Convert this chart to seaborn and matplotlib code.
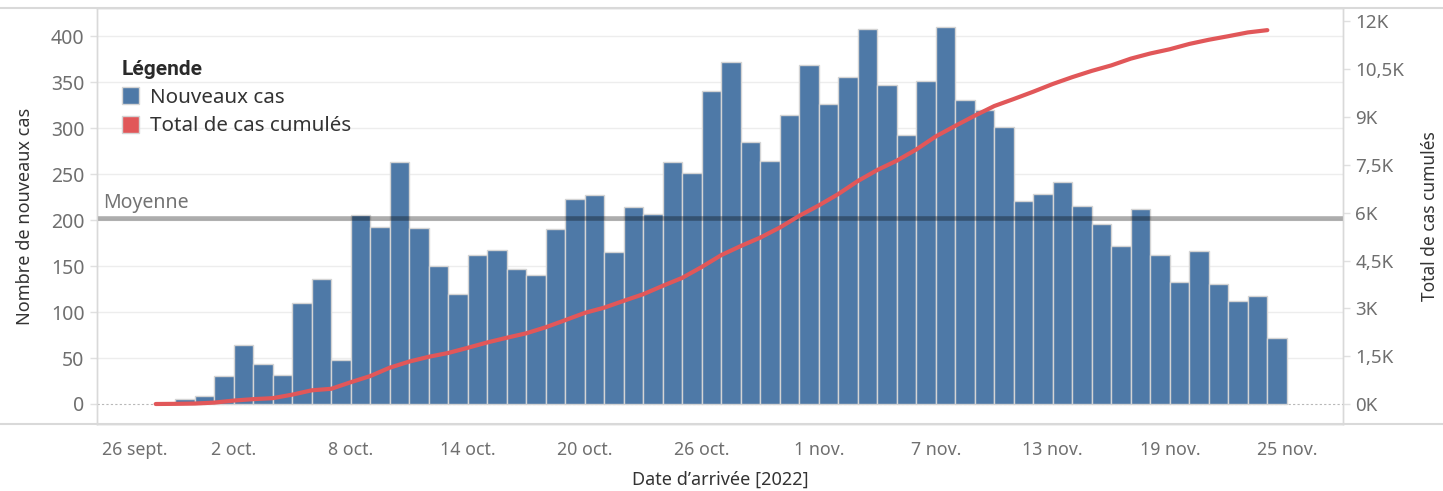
import numpy as np
import pandas as pd
import matplotlib
matplotlib.use("Agg")
import matplotlib.pyplot as plt
import matplotlib.dates as mdates
from matplotlib.patches import Patch
from matplotlib.lines import Line2D
from matplotlib.transforms import ScaledTranslation
from matplotlib.font_manager import FontProperties
import seaborn as sns

# ---------------- data ----------------
start_date = "2022-09-28"
new_cases = [0, 5, 9, 30, 64, 44, 31, 110, 136, 48, 206, 193, 263, 192, 150, 120,
             162, 168, 147, 140, 190, 223, 227, 165, 214, 207, 263, 251, 341, 372,
             285, 264, 315, 369, 326, 356, 408, 347, 293, 351, 410, 331, 320, 302,
             221, 229, 242, 215, 196, 172, 212, 162, 133, 166, 131, 112, 118, 72]
tick_dates = ["2022-09-26", "2022-10-02", "2022-10-08", "2022-10-14", "2022-10-20",
              "2022-10-26", "2022-11-01", "2022-11-07", "2022-11-13", "2022-11-19",
              "2022-11-25"]
tick_labels = ["26 sept.", "2 oct.", "8 oct.", "14 oct.", "20 oct.", "26 oct.",
               "1 nov.", "7 nov.", "13 nov.", "19 nov.", "25 nov."]
left_ticks = [0, 50, 100, 150, 200, 250, 300, 350, 400]
right_ticks = [0, 1500, 3000, 4500, 6000, 7500, 9000, 10500, 12000]
right_labels = ["0K", "1,5K", "3K", "4,5K", "6K", "7,5K", "9K", "10,5K", "12K"]
legend_labels = ["Nouveaux cas", "Total de cas cumulés"]

# ---------------- derived ----------------
dates = pd.date_range(start_date, periods=len(new_cases), freq="D")
day_start = mdates.date2num(dates)
bar_x = day_start + 0.5
cumulative = np.cumsum(new_cases)
mean_value = float(np.mean(new_cases))
df = pd.DataFrame({"x": bar_x, "cas": new_cases, "xs": day_start, "cum": cumulative})

BLUE = "#4e79a7"
RED = "#e15759"
EDGE = "#d4d4d4"
TICK_COL = "#6f6f6f"
TITLE_COL = "#333333"
BORDER = "#d9d9d9"

sns.set_style("white")
plt.rcParams["font.family"] = ["Noto Sans", "DejaVu Sans"]

W, H = 1443, 491
fig = plt.figure(figsize=(W / 100, H / 100), dpi=100)
L, R, T, B = 97, 1343, 8, 424
ax = fig.add_axes([L / W, (H - B) / H, (R - L) / W, (B - T) / H])

sns.barplot(data=df, x="x", y="cas", native_scale=True, width=1, ax=ax,
            color=BLUE, saturation=1, edgecolor=EDGE, linewidth=1,
            errorbar=None, zorder=2)

ax.set_ylim(-21.8, 431)
x0 = mdates.date2num(pd.Timestamp(tick_dates[0]))
ax.set_xlim(x0 - 1.01, x0 + 62.88)

# grid lines (skip zero: dotted baseline there)
for v in left_ticks[1:]:
    ax.axhline(v, color="#ededed", lw=1, zorder=0)
ax.axhline(0, color="#b8b8b8", lw=0.8, ls=(0, (2, 2)), zorder=1)

# mean line
ax.axhline(mean_value, color="black", alpha=0.32, lw=3.3, zorder=3)
ax.annotate("Moyenne", xy=(0.005, mean_value), xycoords=ax.get_yaxis_transform(),
            xytext=(0, 4), textcoords="offset points", ha="left", va="bottom",
            fontsize=14, color="#737373")

ax.set_yticks(left_ticks)
ax.set_yticklabels([str(v) for v in left_ticks])
ax.set_xticks(mdates.date2num(pd.to_datetime(tick_dates)))
ax.set_xticklabels(tick_labels)
ax.xaxis.set_minor_locator(mdates.DayLocator())
ax.tick_params(axis="y", length=5, width=1, color="#e0e0e0", pad=4,
               labelsize=14, labelcolor=TICK_COL)
ax.tick_params(axis="x", which="major", length=5, width=1, color="#d0d0d0", pad=7,
               labelsize=12.8, labelcolor=TICK_COL)
ax.tick_params(axis="x", which="minor", length=4, width=1, color="#ececec")
ax.set_xlabel("Date d\u2019arrivée [2022]", fontsize=13, color=TITLE_COL, labelpad=9,
              fontweight="medium")
ax.set_ylabel("Nombre de nouveaux cas", fontsize=13, color=TITLE_COL, labelpad=12)
for s in ax.spines.values():
    s.set_color(BORDER)
    s.set_linewidth(1)

# secondary axis: cumulative
ax2 = ax.twinx()
sns.lineplot(data=df, x="xs", y="cum", ax=ax2, color=RED, linewidth=3.0,
             solid_capstyle="round", zorder=4)
ax2.set_ylim(-627.5, 12423.5)
ax2.set_xlim(ax.get_xlim())
ax2.set_yticks(right_ticks)
ax2.set_yticklabels(right_labels)
ax2.tick_params(axis="y", length=5, width=1, color="#e0e0e0", pad=4,
                labelsize=13.5, labelcolor=TICK_COL)
ax2.set_ylabel("Total de cas cumulés", fontsize=12.5, color=TITLE_COL, labelpad=12)
ax2.set_xlabel("")
for s in ax2.spines.values():
    s.set_color(BORDER)
    s.set_linewidth(1)

# legend
title_fp = FontProperties(family=["Roboto", "DejaVu Sans"], weight="bold", size=15)
handles = [Patch(facecolor=BLUE, edgecolor=EDGE), Patch(facecolor=RED, edgecolor=EDGE)]
leg = ax2.legend(handles, legend_labels, title="Légende", loc="upper left",
                 bbox_to_anchor=(0.02, 0.876), frameon=False,
                 prop={"size": 14.8},
                 title_fontproperties=title_fp,
                 handlelength=0.85, handleheight=0.85,
                 handletextpad=0.5, labelspacing=0.42, borderpad=0,
                 borderaxespad=0, alignment="left")
leg.get_title().set_color("#2a2a2a")
for t in leg.get_texts():
    t.set_color("#333333")

# full-width pane borders
fig.add_artist(Line2D([0, 1], [(H - T) / H] * 2, color=BORDER, lw=1.5))
fig.add_artist(Line2D([0, 1], [(H - B) / H] * 2, color=BORDER, lw=1.5))

fig.canvas.draw()
first = ax.get_xticklabels()[0]
first.set_horizontalalignment("left")
first.set_transform(first.get_transform() + ScaledTranslation(-15 / 100, 0, fig.dpi_scale_trans))

fig.savefig("out.png", dpi=100)
